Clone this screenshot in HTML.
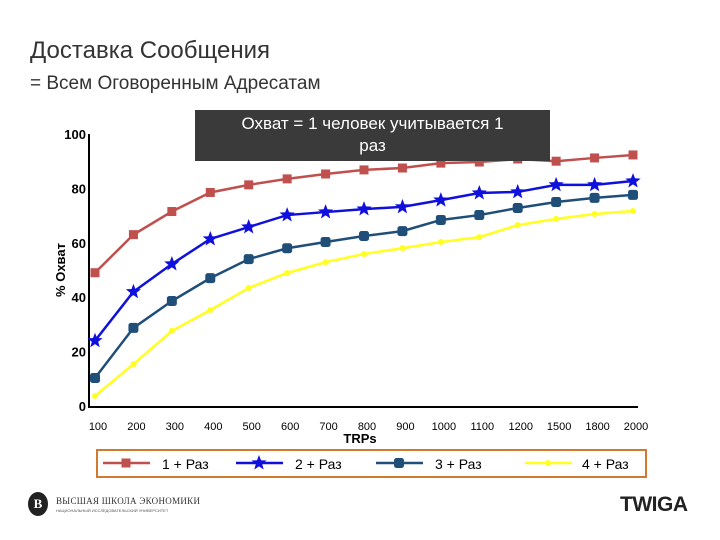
<!DOCTYPE html>
<html><head><meta charset="utf-8"><style>
body{margin:0;background:#fff;font-family:"Liberation Sans",sans-serif;}
#wrap{position:relative;width:720px;height:540px;overflow:hidden;}
</style></head><body>
<div id="wrap">
<div style="position:absolute;left:30px;top:37px;font-size:24px;color:#333;">Доставка Сообщения</div>
<div style="position:absolute;left:30px;top:73px;font-size:19px;color:#333;">= Всем Оговоренным Адресатам</div>
<svg id="chart" width="720" height="540" style="position:absolute;left:0;top:0"></svg>
<div style="position:absolute;left:195px;top:110px;width:355px;height:51px;background:#3a3a3a;color:#fff;font-size:17px;text-align:center;line-height:22px;padding-top:3px;box-sizing:border-box;">Охват = 1 человек учитывается 1<br>раз</div>
<div style="position:absolute;left:28px;top:492px;width:20px;height:24px;border-radius:50%;background:#222;color:#fff;font:bold 13px 'Liberation Serif',serif;text-align:center;line-height:24px;">В</div>
<div style="position:absolute;left:56px;top:496px;font:9px 'Liberation Serif',serif;color:#333;letter-spacing:0.3px;">ВЫСШАЯ ШКОЛА ЭКОНОМИКИ</div>
<div style="position:absolute;left:56px;top:508px;font:4px 'Liberation Sans',sans-serif;color:#555;">НАЦИОНАЛЬНЫЙ ИССЛЕДОВАТЕЛЬСКИЙ УНИВЕРСИТЕТ</div>
<div style="position:absolute;left:620px;top:493px;font:900 21px 'Liberation Sans',sans-serif;color:#222;letter-spacing:-0.5px;">TWIGA</div>
</div>
<script>
const categories=["100","200","300","400","500","600","700","800","900","1000","1100","1200","1500","1800","2000"];
const yTicks=[0,20,40,60,80,100];
const s1=[49,63,71.5,78.5,81.3,83.5,85.3,86.8,87.5,89.3,89.7,90.8,90,91.2,92.3];
const s2=[24,42,52.2,61.4,65.8,70.2,71.3,72.4,73.2,75.7,78.3,78.7,81.3,81.3,82.7];
const s3=[10.3,28.7,38.6,47,54,58,60.3,62.5,64.3,68.4,70.2,72.8,75,76.5,77.6];
const s4=[3.7,15.4,27.6,35.3,43.4,48.9,52.9,55.9,58,60.3,62.1,66.5,68.8,70.6,71.7];
const NS="http://www.w3.org/2000/svg";
const svg=document.getElementById('chart');
const x=i=>95+i*(538/(categories.length-1));
const y=v=>406-v*2.72;
function mk(t,a,p){const e=document.createElementNS(NS,t);for(const k in a)e.setAttribute(k,a[k]);(p||svg).appendChild(e);return e;}
let ax=mk('line',{x1:89,y1:y(100),x2:89,y2:407,stroke:'#000','stroke-width':2});

let bx=mk('line',{x1:88,y1:407,x2:638,y2:407,stroke:'#000','stroke-width':2});

yTicks.forEach(v=>{const t=mk('text',{x:86,y:y(v)+5,'text-anchor':'end','font-size':13,'font-weight':'bold','font-family':'Liberation Sans'});t.textContent=v;
});
categories.forEach((c,i)=>{const t=mk('text',{x:x(i)+3,y:430,'text-anchor':'middle','font-size':11,'font-family':'Liberation Sans'});t.textContent=c;
});
let yt=mk('text',{x:0,y:0,transform:'translate(65,270) rotate(-90)','text-anchor':'middle','font-size':13,'font-weight':'bold','font-family':'Liberation Sans'});yt.textContent='% Охват';

let xt=mk('text',{x:360,y:443,'text-anchor':'middle','font-size':13,'font-weight':'bold','font-family':'Liberation Sans'});xt.textContent='TRPs';

function star(cx,cy,r){let p=[];for(let k=0;k<10;k++){const a=-Math.PI/2+k*Math.PI/5,rr=k%2?r*0.42:r;p.push((cx+rr*Math.cos(a)).toFixed(1)+','+(cy+rr*Math.sin(a)).toFixed(1));}return p.join(' ');}
function marker(type,cx,cy,col,g){
 if(type==='sq')return mk('rect',{x:cx-4.5,y:cy-4.5,width:9,height:9,fill:col},g);
 if(type==='star')return mk('polygon',{points:star(cx,cy,8),fill:col},g);
 if(type==='oct')return mk('rect',{x:cx-5,y:cy-5,width:10,height:10,rx:2.5,fill:col},g);
 return mk('circle',{cx:cx,cy:cy,r:3,fill:col},g);}
const series=[[s1,'#c0504d','sq','series-1-raz'],[s2,'#1010dd','star','series-2-raz'],[s3,'#1f4e79','oct','series-3-raz'],[s4,'#ffff22','dot','series-4-raz']];
series.forEach(([d,col,m,name])=>{
 const g=mk('g',{});
 mk('polyline',{points:d.map((v,i)=>x(i)+','+y(v)).join(' '),fill:'none',stroke:col,'stroke-width':2.5},g);
 d.forEach((v,i)=>{const e=marker(m,x(i),y(v),col,g);});
});
const lg=mk('g',{});
mk('rect',{x:97,y:450,width:549,height:27,fill:'#fff',stroke:'#d07a30','stroke-width':2},lg);
const labels=['1 + Раз','2 + Раз','3 + Раз','4 + Раз'];
const lx=[103,236,376,525],tx=[162,295,435,582];
series.forEach(([d,col,m],k)=>{
 const e=mk('g',{},lg);
 mk('line',{x1:lx[k],y1:463,x2:lx[k]+47,y2:463,stroke:col,'stroke-width':2.5},e);
 marker(m,lx[k]+23,463,col,e);
 const t=mk('text',{x:tx[k],y:469,'font-size':14,'font-family':'Liberation Sans'},e);t.textContent=labels[k];
});
</script>
</body></html>
